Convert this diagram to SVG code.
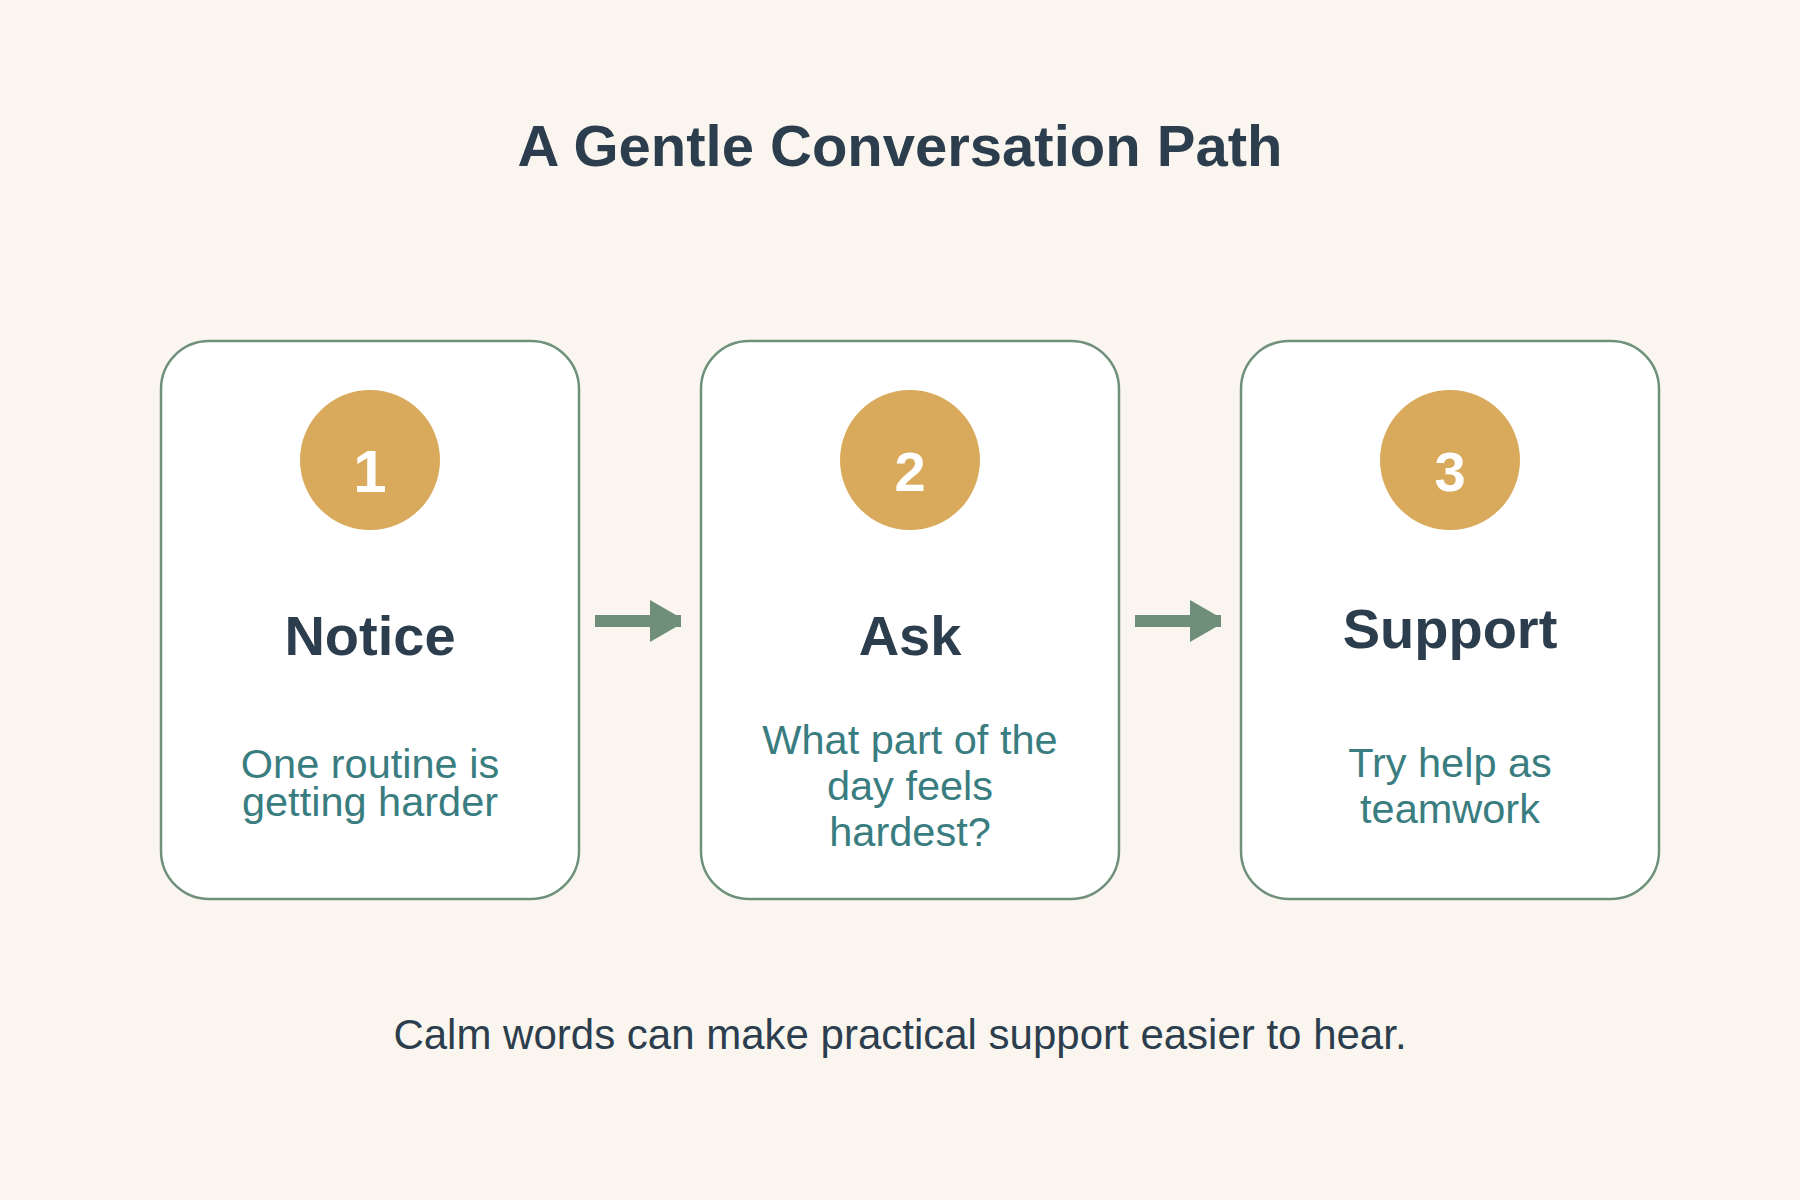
<svg xmlns="http://www.w3.org/2000/svg" width="1800" height="1200" viewBox="0 0 1800 1200">
<style>
.card{fill:#ffffff;stroke:#6f9079;stroke-width:2.5}
.badge{fill:#d9aa5b}
.num{font-family:"Liberation Sans",Arial,sans-serif;font-weight:bold;font-size:56px;fill:#ffffff;text-anchor:middle}
.head{font-family:"Liberation Sans",Arial,sans-serif;font-weight:bold;font-size:56px;fill:#2c3e4e;text-anchor:middle}
.desc{font-family:"Liberation Sans",Arial,sans-serif;font-size:41.5px;fill:#3a7d80;text-anchor:middle}
.title{font-family:"Liberation Sans",Arial,sans-serif;font-weight:bold;font-size:58px;fill:#2c3e4e;text-anchor:middle}
.foot{font-family:"Liberation Sans",Arial,sans-serif;font-size:42px;fill:#2c3e4e;text-anchor:middle}
.arrow{fill:#6f8f7a}
</style>
<rect width="1800" height="1200" fill="#faf6ef"/>
<text class="title" x="900" y="166">A Gentle Conversation Path</text>
<g id="node-notice">
<rect class="card" x="161" y="341" width="418" height="558" rx="48"/>
<circle class="badge" cx="370" cy="460" r="70"/>
<text class="num" x="370" y="492" style="font-size:60px">1</text>
<text class="head" x="370" y="655">Notice</text>
<text class="desc" x="370" y="778">One routine is</text>
<text class="desc" x="370" y="816">getting harder</text>
</g>
<g id="node-ask">
<rect class="card" x="701" y="341" width="418" height="558" rx="48"/>
<circle class="badge" cx="910" cy="460" r="70"/>
<text class="num" x="910" y="491">2</text>
<text class="head" x="910" y="655">Ask</text>
<text class="desc" x="910" y="754">What part of the</text>
<text class="desc" x="910" y="800">day feels</text>
<text class="desc" x="910" y="846">hardest?</text>
</g>
<g id="node-support">
<rect class="card" x="1241" y="341" width="418" height="558" rx="48"/>
<circle class="badge" cx="1450" cy="460" r="70"/>
<text class="num" x="1450" y="491">3</text>
<text class="head" x="1450" y="648">Support</text>
<text class="desc" x="1450" y="777">Try help as</text>
<text class="desc" x="1450" y="823">teamwork</text>
</g>
<g id="connectors">
<g class="arrow">
<rect x="595" y="615" width="86" height="12"/>
<polygon points="650,600 676,615 681,615 681,627 676,627 650,642"/>
</g>
<g class="arrow">
<rect x="1135" y="615" width="86" height="12"/>
<polygon points="1190,600 1216,615 1221,615 1221,627 1216,627 1190,642"/>
</g>
</g>
<text class="foot" x="900" y="1049">Calm words can make practical support easier to hear.</text>
</svg>
